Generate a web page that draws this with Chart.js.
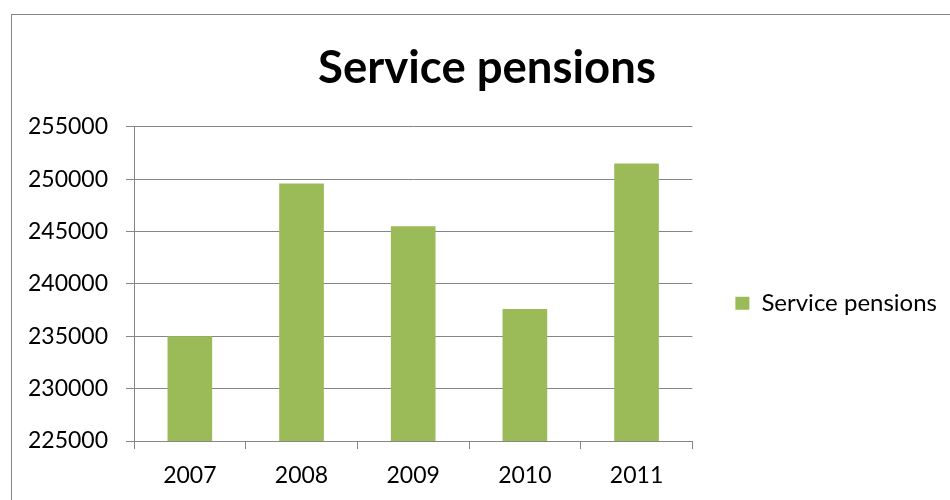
<!DOCTYPE html>
<html>
<head>
<meta charset="utf-8">
<style>
  html, body { margin: 0; padding: 0; background: #fff; }
  #wrap { width: 950px; height: 500px; }
</style>
<script src="https://cdn.jsdelivr.net/npm/chart.js@4"></script>
</head>
<body>
<div id="wrap"><canvas id="pensoes" width="950" height="500"></canvas></div>
<script>
// Service pensions per year
const anos = ['2007', '2008', '2009', '2010', '2011'];
const pensoes = [235000, 249600, 245500, 237600, 251500];
const escalaMin = 225000;
const escalaMax = 255000;
const escalaPasso = 5000;

const cinza = '#868686';
const verde = '#9BBB59';

// frame around the whole chart
const moldura = {
    id: 'moldura',
    beforeDraw(chart) {
        const c = chart.ctx;
        c.save();
        c.strokeStyle = cinza;
        c.lineWidth = 1;
        c.strokeRect(11.5, 14.5, 1200, 1200);
        c.restore();
    }
};

function desenhaGrafico() {
    const ctx = document.getElementById('pensoes').getContext('2d');
    return new Chart(ctx, {
        type: 'bar',
        data: {
            labels: anos,
            datasets: [{
                label: 'Service pensions',
                data: pensoes,
                backgroundColor: verde,
                borderWidth: 0,
                barPercentage: 0.4,
                categoryPercentage: 1.0
            }]
        },
        options: {
            responsive: false,
            animation: false,
            layout: { padding: { left: 27, right: 3, top: 0, bottom: 0 } },
            plugins: {
                title: {
                    display: true,
                    text: 'Service pensions',
                    color: '#000',
                    font: { family: 'Lato', size: 45.5, weight: 'bold', lineHeight: 1.2 },
                    padding: { top: 40.7, bottom: 31.6 }
                },
                legend: {
                    position: 'right',
                    fullSize: false,
                    maxWidth: 300,
                    labels: {
                        color: '#000',
                        font: { family: 'Lato', size: 24 },
                        boxWidth: 14,
                        boxHeight: 13,
                        padding: 43
                    },
                    title: { display: true, text: '', font: { size: 13 }, padding: { top: 23, bottom: 0 } }
                },
                tooltip: { enabled: false }
            },
            scales: {
                x: {
                    afterFit(scale) { scale.height = 59; },
                    grid: { drawOnChartArea: false, color: cinza, tickLength: 8 },
                    border: { color: cinza },
                    ticks: { color: '#000', font: { family: 'Lato', size: 23 }, padding: 12.7 }
                },
                y: {
                    min: escalaMin,
                    max: escalaMax,
                    afterFit(scale) { scale.width = 107; },
                    grid: { color: cinza, tickLength: 8 },
                    border: { color: cinza },
                    ticks: {
                        stepSize: escalaPasso,
                        color: '#000',
                        font: { family: 'Lato', size: 23 },
                        padding: 18,
                        callback: v => String(v)
                    }
                }
            }
        },
        plugins: [moldura]
    });
}

// wait for Lato so text widths are measured correctly
Promise.all([
    document.fonts.load('bold 45.5px Lato'),
    document.fonts.load('23px Lato'),
    document.fonts.load('24px Lato')
]).then(desenhaGrafico, desenhaGrafico);
</script>
</body>
</html>
